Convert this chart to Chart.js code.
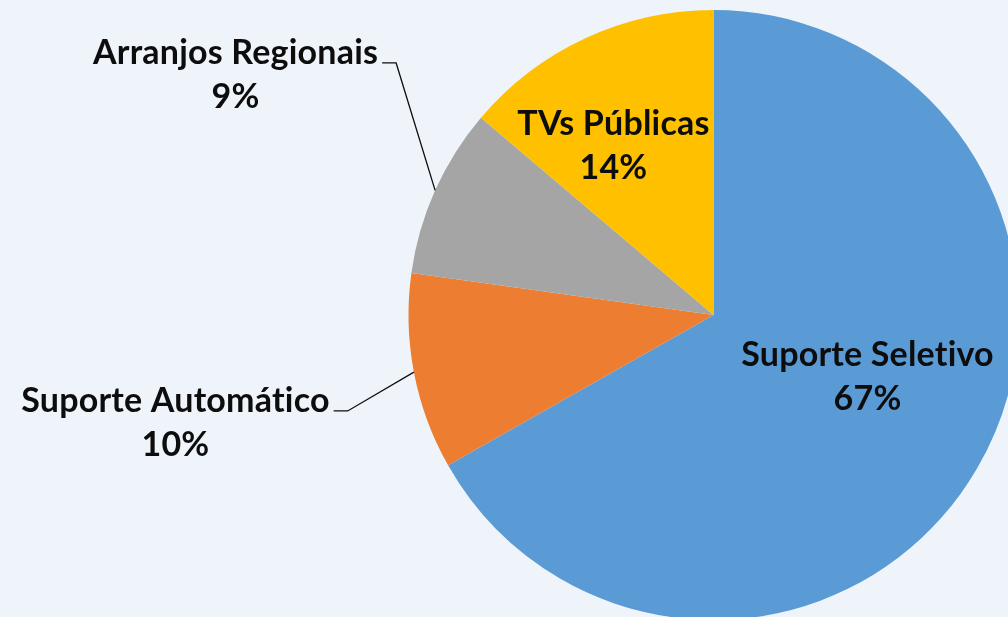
<!DOCTYPE html>
<html>
<head>
<meta charset="utf-8">
<script src="https://cdn.jsdelivr.net/npm/chart.js@4"></script>
<style>
    html, body { margin: 0; padding: 0; background: #EFF4FB; overflow: hidden; }
    #wrap { width: 1020px; height: 620px; position: relative; }
</style>
</head>
<body>
<div id="wrap"><canvas id="pieChart"></canvas></div>
<script>
//// Declarations

// Data
const categories = ['Suporte Seletivo', 'Suporte Automático', 'Arranjos Regionais', 'TVs Públicas'];
const shares = [66.8, 10.4, 9.0, 13.8];
const sliceColors = ['#5B9BD5', '#ED7D31', '#A5A5A5', '#FFC000'];

// Label placement, in units of the pie radius from the pie centre
const labelSpots = [
    { dx: 0.505, dy: 0.203, leader: false },
    { dx: -1.764, dy: 0.354, leader: true },
    { dx: -1.567, dy: -0.787, leader: true },
    { dx: -0.328, dy: -0.554, leader: false }
];

const labelFont = 'bold 34px Lato, "Open Sans", sans-serif';

// Plugin that writes the name + percentage for each slice
const sliceLabels = {
    id: 'sliceLabels',
    afterDatasetsDraw(chart) {
        const ctx = chart.ctx;
        const meta = chart.getDatasetMeta(0);
        const values = chart.data.datasets[0].data;
        const total = values.reduce((a, b) => a + b, 0);

        ctx.save();
        ctx.font = labelFont;
        ctx.letterSpacing = '0.2px'; // stops the "ti" ligature
        ctx.fillStyle = '#0D0D0D';
        ctx.strokeStyle = '#0D0D0D';
        ctx.lineWidth = 1.3;
        ctx.textAlign = 'center';
        ctx.textBaseline = 'middle';

        meta.data.forEach((arc, i) => {
            const spot = labelSpots[i];
            const r = arc.outerRadius;
            const x = arc.x + spot.dx * r;
            const y = arc.y + spot.dy * r;
            const name = chart.data.labels[i];
            const pct = Math.round(values[i] / total * 100) + '%';

            ctx.fillText(name, x, y - 22);
            ctx.fillText(pct, x, y + 22);

            if (spot.leader) {
                // point on the rim in the middle of the slice
                const mid = (arc.startAngle + arc.endAngle) / 2;
                const ex = arc.x + Math.cos(mid) * r;
                const ey = arc.y + Math.sin(mid) * r;
                const textRight = x + ctx.measureText(name).width / 2;
                const ly = y - 22 + 10;
                ctx.beginPath();
                ctx.moveTo(ex, ey);
                ctx.lineTo(textRight + 18, ly);
                ctx.lineTo(textRight + 4, ly);
                ctx.stroke();
            }
        });
        ctx.restore();
    }
};

//// Execution
window.onload = () => {
    const canvas = document.getElementById('pieChart');

    const pieData = {
        labels: categories,
        datasets: [{
            data: shares,
            backgroundColor: sliceColors,
            borderWidth: 0,
            hoverOffset: 0
        }]
    };

    new Chart(canvas, {
        type: 'pie',
        data: pieData,
        options: {
            responsive: true,
            maintainAspectRatio: false,
            animation: false,
            layout: { padding: { left: 407, top: 10, right: 0, bottom: 0 } },
            plugins: {
                legend: { display: false },
                tooltip: { enabled: false }
            }
        },
        plugins: [sliceLabels]
    });
};
</script>
</body>
</html>
